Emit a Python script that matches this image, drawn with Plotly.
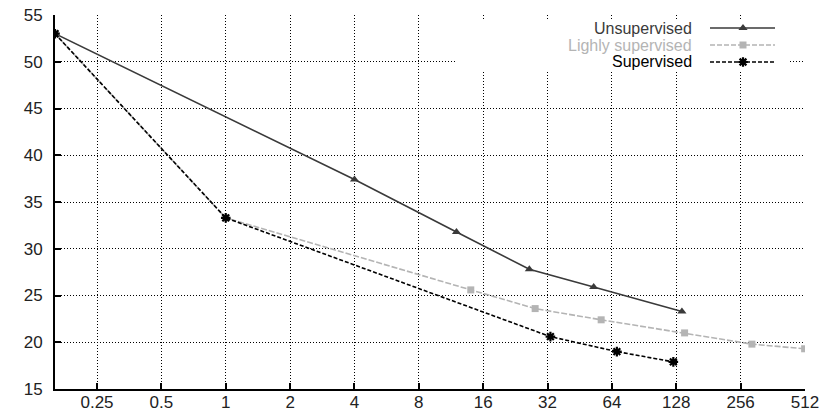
import math
import plotly.graph_objects as go

# ---- data ----
x_unsup = [0.159, 4, 12, 26.3, 52.6, 136]
y_unsup = [53.0, 37.4, 31.8, 27.8, 25.9, 23.3]

x_light = [0.159, 1, 14, 28, 57, 140, 289, 510]
y_light = [53.0, 33.3, 25.6, 23.6, 22.4, 21.0, 19.8, 19.3]

x_sup = [0.159, 1, 33, 67.5, 124]
y_sup = [53.0, 33.3, 20.6, 19.0, 17.9]

x_tickvals = [0.25, 0.5, 1, 2, 4, 8, 16, 32, 64, 128, 256, 512]
x_ticktext = ["0.25", "0.5", "1", "2", "4", "8", "16", "32", "64", "128", "256", "512"]
y_tickvals = [15, 20, 25, 30, 35, 40, 45, 50, 55]

series_names = ["Unsupervised", "Lighly supervised", "Supervised"]
series_colors = ["#3a3a3a", "#b4b4b4", "#000000"]

FONT = "Liberation Sans, Arial, Helvetica, sans-serif"

fig = go.Figure()

# main traces
fig.add_trace(go.Scatter(
    x=x_unsup, y=y_unsup, mode="lines+markers", name=series_names[0],
    line=dict(color=series_colors[0], width=1.6),
    marker=dict(symbol="triangle-up", size=8, color=series_colors[0]),
    showlegend=False))
fig.add_trace(go.Scatter(
    x=x_light, y=y_light, mode="lines+markers", name=series_names[1],
    line=dict(color=series_colors[1], width=1.6, dash="6px,2px"),
    marker=dict(symbol="square", size=7, color=series_colors[1]),
    showlegend=False))
fig.add_trace(go.Scatter(
    x=x_sup, y=y_sup, mode="lines+markers", name=series_names[2],
    line=dict(color=series_colors[2], width=1.6, dash="4px,2px"),
    marker=dict(symbol="asterisk-open", size=8, color=series_colors[2],
                line=dict(color=series_colors[2], width=2.2)),
    showlegend=False))

# ---- custom legend (text right-aligned, sample on right, like gnuplot) ----
L, R, T, B = 55, 805, 15, 389  # plot area in pixels
W, H = 825, 417

def fx(px):
    return (px - L) / (R - L)

def fy(py):
    return (B - py) / (B - T)

# white legend box (covers the grid) on the pixel-space overlay axes
bx0, bx1, by0, by1 = 455, 790, 19, 71
fig.add_trace(go.Scatter(
    x=[bx0, bx1, bx1, bx0, bx0], y=[by1, by1, by0, by0, by1],
    mode="lines", fill="toself", fillcolor="white", line=dict(width=0, color="white"),
    xaxis="x2", yaxis="y2", showlegend=False, hoverinfo="skip"))

leg_y = [28, 45, 62]
dashes = ["solid", "5px,2px", "4px,2px"]
symbols = ["triangle-up", "square", "asterisk-open"]
for i, name in enumerate(series_names):
    fig.add_annotation(x=fx(693), y=fy(leg_y[i]), xref="paper", yref="paper",
                       text=name, showarrow=False, xanchor="right", yanchor="middle",
                       font=dict(family=FONT, size=16, color=series_colors[i]),
                       borderpad=0)
    fig.add_trace(go.Scatter(
        x=[710, 775], y=[leg_y[i], leg_y[i]], mode="lines", xaxis="x2", yaxis="y2",
        line=dict(color=series_colors[i], width=1.6, dash=dashes[i]),
        showlegend=False, hoverinfo="skip"))
    mk = dict(symbol=symbols[i], size=8 if i != 1 else 7, color=series_colors[i])
    if i == 2:
        mk["line"] = dict(color=series_colors[i], width=2.2)
    fig.add_trace(go.Scatter(
        x=[743], y=[leg_y[i]], mode="markers", xaxis="x2", yaxis="y2",
        marker=mk, showlegend=False, hoverinfo="skip"))

fig.update_layout(
    width=W, height=H,
    margin=dict(l=L, r=W - R, t=T, b=H - B, autoexpand=False),
    paper_bgcolor="white", plot_bgcolor="white",
    font=dict(family=FONT, size=17, color="#222"),
    xaxis=dict(type="log", range=[math.log10(0.159), math.log10(512)],
               tickvals=x_tickvals, ticktext=x_ticktext, automargin=False,
               showgrid=True, gridcolor="black", griddash="1px,2px", gridwidth=1,
               showline=True, linecolor="black", linewidth=2,
               ticks="inside", ticklen=6, tickwidth=2, tickcolor="black",
               zeroline=False, ticklabelstandoff=-3),
    yaxis=dict(range=[15, 55], tickvals=y_tickvals, automargin=False,
               showgrid=True, gridcolor="black", griddash="1px,2px", gridwidth=1,
               showline=True, linecolor="black", linewidth=2,
               ticks="inside", ticklen=6, tickwidth=2, tickcolor="black",
               zeroline=False, ticklabelstandoff=7),
    xaxis2=dict(overlaying="x", range=[L, R], visible=False, showgrid=False),
    yaxis2=dict(overlaying="y", range=[B, T], visible=False, showgrid=False),
)

fig.write_html("out.html")
